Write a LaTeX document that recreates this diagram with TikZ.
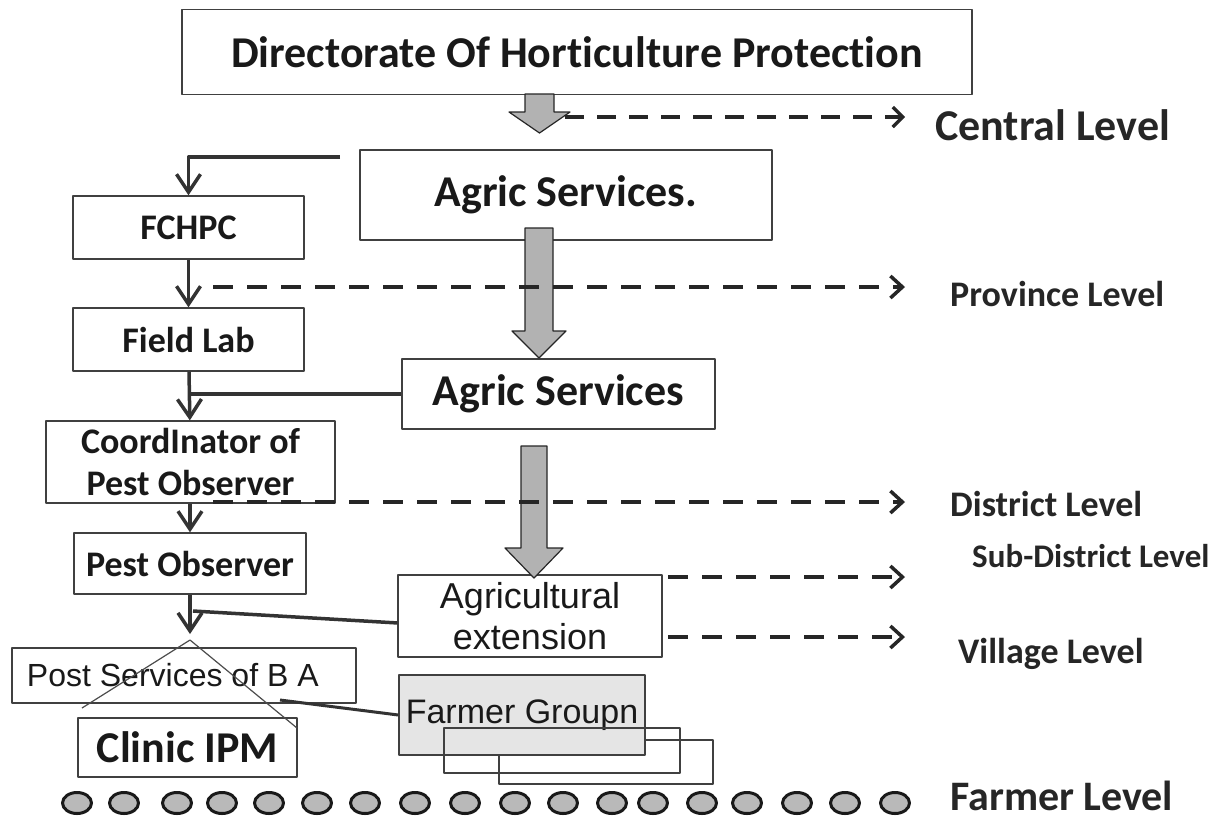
\documentclass[tikz,border=0pt]{standalone}
\usepackage{fontspec}
\setmainfont{Carlito}[Ligatures=NoCommon]
\newfontfamily\arialfont{Liberation Sans}
\usepackage{tikz}
\usetikzlibrary{arrows.meta,shapes.geometric}

\newcommand{\fbig}{\fontsize{44}{48}\selectfont\bfseries}
\newcommand{\fmid}{\fontsize{36}{42}\selectfont\bfseries}
\newcommand{\farial}{\arialfont\fontsize{34}{40}\selectfont}

% grey block arrow: x, top, head top, tip, half shaft, half head
\newcommand{\blockarr}[6]{%
  \filldraw[fill=gray!60,draw=black!85,line width=1.2pt]
    (#1-#5,#2) -- (#1+#5,#2) -- (#1+#5,#3) -- (#1+#6,#3) -- (#1,#4)
    -- (#1-#6,#3) -- (#1-#5,#3) -- cycle;}

\begin{document}
\begin{tikzpicture}[x=1pt,y=-1pt,>={Straight Barb[length=18pt,width=24pt]},
                    line join=round]

  \tikzstyle{box}=[draw=black!75,line width=1.3pt,fill=white,inner sep=0pt,
                   align=center,text=black!90]
  \tikzstyle{conn}=[draw=black!80,line width=3.5pt]
  \tikzstyle{lvl}=[->,draw=black!85,line width=3.5pt,dash pattern=on 20pt off 14pt,
                   >={Straight Barb[length=12pt,width=22pt]}]
  \tikzstyle{toplvl}=[->,draw=black!85,line width=3.2pt,dash pattern=on 19pt off 13pt,
                   >={Straight Barb[length=10pt,width=20pt]}]
  \tikzstyle{lvltext}=[anchor=west,inner sep=0pt,text=black!85]
  \tikzstyle{farmer}=[ellipse,draw=black!90,line width=3pt,fill=gray!55,
                      minimum width=29pt,minimum height=21pt,inner sep=0pt]

  \useasboundingbox (0,0) rectangle (1222,820);

  \node[box,minimum width=790pt,minimum height=85pt,font=\fbig] (dir) at (577,52)
       {Directorate Of Horticulture Protection};
  \node[box,minimum width=412pt,minimum height=90pt,font=\fbig] (agrA) at (566,195)
       {Agric Services.};
  \node[box,minimum width=231pt,minimum height=63pt,font=\fmid] (fchpc) at (188.5,227.5) {FCHPC};
  \node[box,minimum width=231pt,minimum height=63pt,font=\fmid] (lab)   at (188.5,339.5) {Field Lab};
  \node[box,minimum width=313pt,minimum height=70pt,font=\fbig] (agrB)  at (558.5,394) {Agric Services};
  \node[box,minimum width=289pt,minimum height=82pt,font=\fmid] (coord) at (190.5,462)
       {CoordInator of\\Pest Observer};
  \node[box,minimum width=232pt,minimum height=61pt,font=\fmid] (pest)  at (190,563.5) {Pest Observer};
  \node[box,minimum width=264pt,minimum height=82pt,font=\arialfont\fontsize{36}{41}\selectfont]
       (ext) at (530,616) {Agricultural\\extension};
  \node[box,minimum width=344pt,minimum height=55pt,font=\arialfont\fontsize{32}{36}\selectfont,
        text width=314pt,align=flush left] (post) at (184,675.5) {Post Services of B A};
  \node[box,minimum width=219pt,minimum height=59pt,font=\fbig] (clinic) at (187.5,747.5) {Clinic IPM};

  % farmer groups
  \node[box,minimum width=214pt,minimum height=44pt] (grp3) at (606,762) {};
  \node[box,fill=gray!20,minimum width=246pt,minimum height=80pt,font=\farial] (group) at (522,715)
       {Farmer Groupn};
  \node[box,fill=none,minimum width=236pt,minimum height=45pt] (grp2) at (562,750.5) {};

  % levels
  \node[lvltext,font=\fbig] (central) at (935,125) {Central Level};
  \node[lvltext,font=\fmid] (prov)    at (950,294) {Province Level};
  \node[lvltext,font=\fmid] (dist)    at (950,504) {District Level};
  \node[lvltext,font=\fontsize{33}{38}\selectfont\bfseries] (sub) at (972,556) {Sub-District Level};
  \node[lvltext,font=\fmid] (vill)    at (958,654) {Village Level};
  \node[lvltext,font=\fontsize{42}{46}\selectfont\bfseries] (farm) at (950,796) {Farmer Level};

  \blockarr{539.5}{94}{112}{133}{14.5}{30.5}
  \blockarr{539}{228}{331}{358}{14}{27}
  \blockarr{534}{446}{548}{578}{13}{29}

  \coordinate (k1)   at (340,157);
  \coordinate (apex) at (190,640);
  \coordinate (j2)   at (193,611);
  \coordinate (tl)   at (82,708);
  \coordinate (tr)   at (297,728);
  \coordinate (p1)   at (280,700);

  \draw[conn,->] (k1) -| (fchpc);
  \draw[conn,->] (fchpc) -- (lab);
  \draw[conn,->] (lab) -- (coord);
  \draw[conn]    (agrB.west) -- (agrB.west -| lab);
  \draw[conn,->] (pest.north |- coord.south) -- (pest);
  \draw[conn,->,shorten >=6pt] (pest) -- (apex);
  \draw[conn]    (ext.183) -- (j2);
  \draw[black!70,line width=1.2pt] (tl) -- (apex) -- (tr);
  \draw[conn,line width=3pt] (p1) -- (group.west);

  % dashed level arrows
  \coordinate (ce0) at (565,117);  \coordinate (ce1) at (905,117);
  \coordinate (pv0) at (213,287);  \coordinate (pv1) at (905,287);
  \coordinate (di0) at (213,502);  \coordinate (di1) at (905,502);
  \coordinate (sd0) at (668,577);  \coordinate (sd1) at (905,577);
  \coordinate (vi0) at (668,637);  \coordinate (vi1) at (905,637);

  \draw[toplvl] (ce0) -- (ce1);
  \draw[lvl] (pv0) -- (pv1);
  \draw[lvl] (di0) -- (di1);
  \draw[lvl] (sd0) -- (sd1);
  \draw[lvl] (vi0) -- (vi1);

  \foreach \x [count=\i] in {77,124,177,222,269,317,365,415,465,515,563,612,653,702,747,797,845,895}
    \node[farmer] (f\i) at (\x,803) {};
\end{tikzpicture}
\end{document}
